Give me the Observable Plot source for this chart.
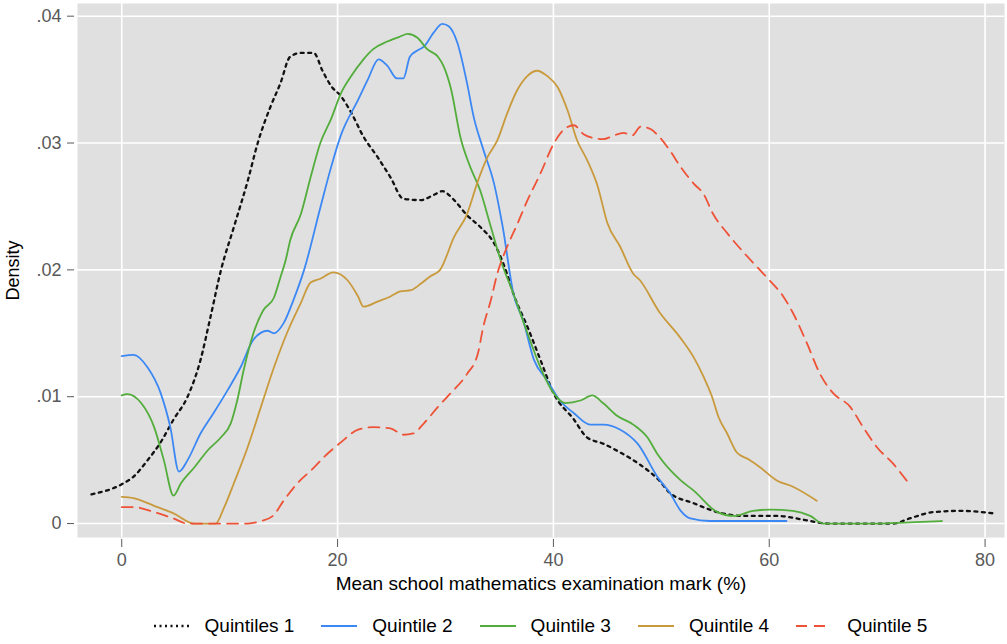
<!DOCTYPE html>
<html>
<head>
<meta charset="utf-8">
<script src="https://cdn.jsdelivr.net/npm/d3@7"></script>
<script src="https://cdn.jsdelivr.net/npm/@observablehq/plot@0.6"></script>
<style>
  html, body { margin: 0; padding: 0; background: #fff; }
  #chart { width: 1007px; font-family: "Liberation Sans", Arial, sans-serif; }
  .legend { display: flex; justify-content: center; align-items: center; height: 44px; padding-top: 8px; box-sizing: border-box; font-size: 19px; color: #000; padding-left: 77px; padding-right: 3px; }
  .legend .item { display: flex; align-items: center; margin-right: 27px; }
  .legend .item:last-child { margin-right: 0; }
  .legend svg { margin-right: 15px; }
</style>
</head>
<body>
<div id="chart"></div>
<script>
// Kernel density of mean school mathematics examination marks, by quintile: [mark %, density]
const q1 = [[-2.8,0.0023],[0,0.0031],[1.1,0.0037],[2.4,0.005],[3.6,0.0064],[4.8,0.0082],[6.1,0.01],[7.3,0.0129],[8.2,0.0162],[9.2,0.02],[10.4,0.0234],[11.7,0.0271],[12.6,0.03],[13.8,0.0329],[14.7,0.0347],[15.6,0.0368],[16.6,0.0371],[17.8,0.0371],[18.6,0.0357],[19.4,0.0345],[20.3,0.0337],[21.2,0.0325],[22.4,0.0305],[23.7,0.0289],[24.9,0.0273],[26.1,0.0256],[27.7,0.0255],[28.9,0.0259],[29.7,0.0262],[30.8,0.0255],[32,0.0243],[33.2,0.0234],[34.5,0.0221],[35.7,0.0197],[36.3,0.0181],[37.6,0.0155],[38.8,0.0129],[40,0.0103],[41.9,0.0082],[43.1,0.0068],[44.6,0.0063],[46.2,0.0056],[48.1,0.0046],[49.8,0.0034],[50.8,0.0024],[53,0.0016],[55.2,0.0009],[57.6,0.0006],[60.7,0.0006],[63.2,0.0003],[65.4,0],[68.4,0],[71.5,0],[73,0.0004],[75.2,0.0009],[77.7,0.001],[80.8,0.0008]];
const q2 = [[0,0.0132],[1.1,0.0133],[2.4,0.0123],[3.6,0.0103],[4.5,0.0076],[5.3,0.0041],[6.1,0.005],[7.3,0.0071],[8.5,0.0087],[9.8,0.0105],[11,0.0123],[12.2,0.0145],[13.5,0.0152],[14.1,0.015],[15,0.0158],[15.9,0.0176],[16.9,0.02],[18.4,0.0249],[19.4,0.0281],[20.3,0.0306],[21.9,0.0334],[22.8,0.035],[23.8,0.0366],[24.6,0.0361],[25.5,0.0351],[26.1,0.0351],[26.7,0.0368],[27.4,0.0373],[28,0.0376],[28.9,0.0387],[29.7,0.0394],[30.3,0.0392],[31.1,0.0379],[32,0.0347],[32.6,0.0321],[33.5,0.0295],[34.5,0.0268],[35.3,0.0234],[36.3,0.0181],[37.2,0.016],[38.2,0.0129],[39.4,0.0113],[40.6,0.0097],[41.9,0.0087],[43.4,0.0078],[44.6,0.0078],[46.2,0.0074],[47.8,0.0063],[49.7,0.0036],[50.8,0.0024],[51.8,0.001],[52.7,0.0004],[54.5,0.0002],[57.6,0.0002],[61.6,0.0002]];
const q3 = [[0,0.0101],[0.5,0.0102],[1.8,0.0095],[3,0.0076],[3.9,0.005],[4.8,0.0022],[5.5,0.0032],[6.7,0.0044],[8,0.0058],[9.2,0.0068],[10.1,0.0079],[10.7,0.0097],[11.3,0.0121],[12.2,0.015],[13.1,0.0168],[14.1,0.0178],[14.7,0.0194],[15.2,0.0208],[15.6,0.0223],[16.6,0.0244],[17.5,0.0273],[18.4,0.03],[19.4,0.0319],[20.3,0.0339],[21.2,0.0352],[22.4,0.0366],[23.3,0.0374],[24.6,0.038],[25.8,0.0384],[26.5,0.0386],[27.4,0.0383],[28.3,0.0374],[29.3,0.0368],[29.8,0.0361],[30.5,0.0343],[31.4,0.0304],[32.3,0.0281],[33.2,0.0263],[34.2,0.0234],[35.1,0.0208],[36.3,0.0181],[37.6,0.015],[38.8,0.0123],[40,0.0103],[41.1,0.0095],[42.5,0.0097],[43.6,0.0101],[44.6,0.0095],[45.9,0.0085],[47.4,0.0078],[48.7,0.0068],[49.7,0.0054],[51.8,0.0034],[53,0.0026],[55.2,0.0009],[56.7,0.0006],[58.5,0.001],[60.1,0.0011],[62.2,0.001],[63.8,0.0006],[65,0],[70,0],[73,0.0001],[76,0.0002]];
const q4 = [[0,0.0021],[1.1,0.002],[3,0.0014],[4.8,0.0008],[6.7,0],[8.7,0],[9.5,0.0013],[10.4,0.0032],[11.7,0.0061],[12.9,0.0092],[14.1,0.0123],[15.4,0.0152],[16.6,0.0174],[17.5,0.019],[18.4,0.0193],[19.6,0.0198],[20.9,0.0192],[21.9,0.0179],[22.4,0.0171],[23.7,0.0175],[24.9,0.0179],[25.8,0.0183],[26.8,0.0184],[27.7,0.0189],[28.6,0.0195],[29.5,0.02],[30.8,0.0226],[32,0.0244],[33,0.027],[33.9,0.0289],[34.8,0.0302],[35.7,0.0323],[36.6,0.0341],[37.6,0.0353],[38.5,0.0357],[39.4,0.0353],[40.4,0.0344],[41.3,0.0326],[42.2,0.0302],[43.1,0.0287],[44.1,0.0266],[45,0.0237],[46.2,0.0218],[47.4,0.0197],[48,0.0192],[49.8,0.0167],[51.8,0.0146],[53,0.0131],[53.9,0.0116],[54.7,0.01],[55.3,0.0084],[56.1,0.0071],[57,0.0056],[58,0.0051],[59.2,0.0044],[60.7,0.0034],[62.2,0.0029],[64.4,0.0018]];
const q5 = [[0,0.0013],[1.1,0.0013],[3,0.0009],[4.8,0.0004],[6.1,0],[11.7,0],[12.9,0.0002],[14,0.0006],[15,0.0018],[16.3,0.0032],[17.8,0.0044],[18.7,0.0052],[20.3,0.0064],[21.9,0.0074],[23.3,0.0076],[24.9,0.0075],[26.1,0.007],[27,0.0071],[28,0.0079],[29.3,0.0092],[30.5,0.0103],[32,0.0118],[33,0.0134],[33.5,0.0155],[34.2,0.0176],[34.8,0.0197],[35.7,0.0218],[36.7,0.0237],[37.6,0.0255],[38.8,0.0276],[40,0.0299],[40.9,0.031],[41.9,0.0314],[42.8,0.0307],[43.7,0.0304],[44.6,0.0303],[45.6,0.0306],[46.5,0.0308],[47.3,0.0306],[48.1,0.0313],[49,0.0311],[49.8,0.0305],[50.8,0.0294],[51.8,0.0281],[53,0.0268],[53.9,0.026],[54.8,0.0244],[56.1,0.0229],[57.6,0.0214],[58.9,0.0202],[60,0.0192],[61.3,0.0179],[62.2,0.0166],[63.5,0.0142],[64.7,0.0118],[65.9,0.0103],[67.5,0.0092],[68.7,0.0076],[70,0.006],[71.5,0.0047],[72.9,0.0032]];

const xTicks = [0, 20, 40, 60, 80];
const yTicks = [0, 0.01, 0.02, 0.03, 0.04];

const series = [
  {name: "Quintiles 1", data: q1, color: "#111111", dash: "3,4.5", legendDash: "2,3.5", width: 2.3},
  {name: "Quintile 2", data: q2, color: "#3b88f5", dash: null, legendDash: null, width: 1.8},
  {name: "Quintile 3", data: q3, color: "#52ad3b", dash: null, legendDash: null, width: 1.8},
  {name: "Quintile 4", data: q4, color: "#c99a3c", dash: null, legendDash: null, width: 1.8},
  {name: "Quintile 5", data: q5, color: "#ee5237", dash: "11,7", legendDash: "11,7", width: 1.8}
];

const fmtY = d => d === 0 ? "0" : d3.format(".2f")(d).replace(/^0/, "");

const lineMarks = series.map(s => Plot.line(s.data, {
  x: d => d[0], y: d => d[1],
  stroke: s.color, strokeWidth: s.width, strokeDasharray: s.dash,
  curve: "monotone-x", strokeLinejoin: "round"
}));

const chart = Plot.plot({
  width: 1007,
  height: 600,
  marginLeft: 77,
  marginRight: 3,
  marginTop: 3,
  marginBottom: 63,
  style: {fontFamily: "Liberation Sans, Arial, sans-serif", fontSize: "18px", background: "#fff"},
  x: {domain: [-4.1, 81.8]},
  y: {domain: [-0.0011, 0.041]},
  marks: [
    Plot.frame({fill: "#e0e0e0", stroke: null}),
    Plot.ruleX(xTicks, {stroke: "#fff", strokeWidth: 1.6}),
    Plot.ruleY(yTicks, {stroke: "#fff", strokeWidth: 1.6}),
    ...lineMarks,
    Plot.axisY(yTicks, {tickFormat: fmtY, tickSize: 7, tickPadding: 6, dx: -3, fontSize: 18, color: "#595959", label: null}),
    Plot.axisY([], {label: "Density", labelAnchor: "center", labelOffset: 71, labelArrow: "none", fontSize: 18, color: "#000"}),
    Plot.axisX(xTicks, {tickSize: 8, tickPadding: 6, dy: 2, fontSize: 18, color: "#595959", label: null}),
    Plot.axisX([], {label: "Mean school mathematics examination mark (%)", labelAnchor: "center", labelOffset: 52, labelArrow: "none", fontSize: 19, color: "#000"})
  ]
});

const root = document.getElementById("chart");
root.appendChild(chart);

// Legend row beneath the plot, centred under the panel
const legend = document.createElement("div");
legend.className = "legend";
for (const s of series) {
  const item = document.createElement("div");
  item.className = "item";
  const sw = d3.create("svg").attr("width", 36).attr("height", 10);
  sw.append("line").attr("x1", 0).attr("x2", 36).attr("y1", 5).attr("y2", 5)
    .attr("stroke", s.color).attr("stroke-width", s.width)
    .attr("stroke-dasharray", s.legendDash);
  item.appendChild(sw.node());
  const label = document.createElement("span");
  label.textContent = s.name;
  item.appendChild(label);
  legend.appendChild(item);
}
root.appendChild(legend);
</script>
</body>
</html>
